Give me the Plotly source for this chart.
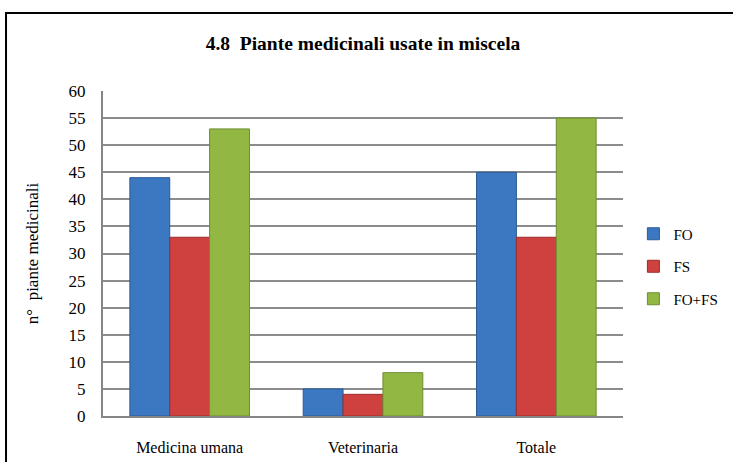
import plotly.graph_objects as go

categories = ["Medicina umana", "Veterinaria", "Totale"]
series_names = ["FO", "FS", "FO+FS"]
fo_values = [44, 5, 45]
fs_values = [33, 4, 33]
fofs_values = [53, 8, 55]
y_ticks = list(range(0, 61, 5))

colors = ["#3c78c2", "#cf413e", "#92b843"]
edges = ["#2b5a94", "#9a2d2b", "#6f8c30"]
values = [fo_values, fs_values, fofs_values]

serif = "Liberation Serif"

fig = go.Figure()
for name, vals, c, e in zip(series_names, values, colors, edges):
    fig.add_trace(go.Bar(
        x=categories, y=vals, name=name, legendgroup=name,
        marker=dict(color=c, line=dict(color=e, width=1)),
    ))

fig.update_layout(
    width=733, height=462, autosize=False,
    margin=dict(l=103, r=110, t=91, b=46, autoexpand=False),
    paper_bgcolor="white", plot_bgcolor="white",
    barmode="group", bargap=0.31, bargroupgap=0,
    font=dict(family=serif, size=16, color="black"),
    title=dict(text="<b>4.8  Piante medicinali usate in miscela</b>",
               x=0.5, xref="paper", xanchor="center",
               y=0.907, yref="container", yanchor="middle",
               font=dict(family=serif, size=19.5, color="black")),
    showlegend=True,
    legend=dict(x=1.02, y=0.46, xanchor="left", yanchor="middle",
                font=dict(family=serif, size=15, color="black"),
                tracegroupgap=10, itemwidth=30, bgcolor="rgba(0,0,0,0)"),
    xaxis=dict(showline=True, linecolor="#868686", linewidth=2,
               ticks="", tickfont=dict(family=serif, size=16, color="black"),
               ticklabelstandoff=16, automargin=False),
    yaxis=dict(range=[0, 60], tickvals=y_ticks, showgrid=True,
               gridcolor="#8c8c8c", gridwidth=2, showline=True,
               linecolor="#868686", linewidth=2, zeroline=False,
               tickfont=dict(family=serif, size=17, color="black"),
               ticks="", ticklabelstandoff=12, automargin=False,
               title=dict(text="n°  piante medicinali",
                          font=dict(family=serif, size=17, color="black"),
                          standoff=26)),
)
fig.add_shape(type="rect", xref="paper", yref="paper",
              x0=-0.1865, x1=1.25, y0=-0.2, y1=1.24,
              line=dict(color="black", width=2), fillcolor="rgba(0,0,0,0)",
              layer="above")
fig.write_html("out.html",
               config={"responsive": False, "displayModeBar": False},
               post_script="document.body.style.margin='0';document.body.style.overflow='hidden';")
